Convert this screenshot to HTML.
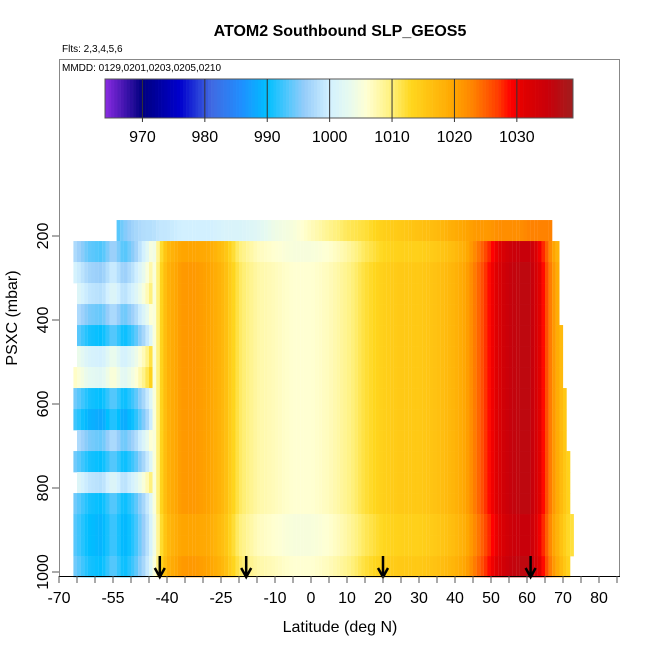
<!DOCTYPE html>
<html><head><meta charset="utf-8"><style>
body{margin:0;background:#fff;}
svg text{font-family:"Liberation Sans",sans-serif;}
</style></head><body>
<svg id="c" width="650" height="650" xmlns="http://www.w3.org/2000/svg">
<text x="340" y="36" font-size="16" font-weight="bold" text-anchor="middle">ATOM2 Southbound SLP_GEOS5</text>
<text x="62" y="52" font-size="10">Flts: 2,3,4,5,6</text>
<g id="heat"></g>
<g id="arrows"></g>
<rect x="59.5" y="59.5" width="560" height="517" fill="none" stroke="#888"/>
<text x="62" y="71" font-size="10">MMDD: 0129,0201,0203,0205,0210</text>
<g id="cbar"></g>
<g id="xaxis"></g>
<g id="yaxis"></g>
<text x="340" y="632" font-size="16" text-anchor="middle">Latitude (deg N)</text>
<text transform="translate(17,318) rotate(-90)" font-size="16" text-anchor="middle">PSXC (mbar)</text>
</svg>
<script>
// data
const profLat = [-67,-62,-58,-55,-52,-49,-46,-44,-42,-40,-36,-32,-28,-24,-20,-15,-10,-5,0,5,10,15,20,25,30,35,40,43,46,49,52,55,58,61,64,67,70,72];
const profVal = [996,991,990,994,990,993,998,1003,1012,1018,1021,1021,1020,1017,1011,1008,1007,1006,1006,1007,1009,1012,1014,1015,1015,1016,1018,1020,1024,1028,1032,1035,1036,1036,1030,1022,1016,1013];
const topVal  = [992,992,992,992,995,997,998,998,999,999,1000,1000,1000,1001,1001,1002,1004,1005,1007,1009,1011,1012,1014,1015,1016,1017,1019,1020,1021,1021,1022,1022,1022,1023,1023,1023,1023,1023];
const rowP = [187,237,287,337,387,437,487,537,587,637,687,737,787,837,887,937,987];
const rowLatMin = [-54,-66,-66,-65,-65,-65,-65,-66,-66,-66,-65,-66,-65,-66,-66,-66,-66];
const rowLatMax = [67,69,69,69,69,70,70,70,71,71,71,72,72,72,73,73,72];
const rowOffset = [0,-1,0,0,0,0,0,0,0,0,0,0,0,0,-1,-1,0];
const rowSouth = [0,4,6,8,4,0,10,12,0,-2,4,0,8,0,0,0,0];
const cbTicks = [970,980,990,1000,1010,1020,1030];
const xTicks = [-70,-55,-40,-25,-10,0,10,20,30,40,50,60,70,80];
const yTicks = [200,400,600,800,1000];
const arrowLat = [-42,-18,20,61];
const cbMin = 964, cbMax = 1039;

const NS='http://www.w3.org/2000/svg';
function mk(t,a,p){const e=document.createElementNS(NS,t);for(const k in a)e.setAttribute(k,a[k]);p.appendChild(e);return e;}
const xs = lat => 59 + (lat + 70) * 3.6;
const ys = p => 152 + p * 0.42;
const cbx = v => 105 + (v - cbMin) / (cbMax - cbMin) * 468;
const stops = [[964,[138,43,226]],[970,[0,0,128]],[976,[0,0,205]],[981,[65,105,225]],[986,[30,144,255]],[990,[0,191,255]],[996,[150,205,250]],[1000,[210,240,255]],[1003,[230,250,240]],[1006,[255,255,210]],[1010,[255,240,120]],[1013,[255,215,30]],[1020,[255,165,0]],[1023,[255,130,0]],[1027,[255,60,0]],[1029,[255,0,0]],[1031,[225,0,0]],[1035,[200,0,10]],[1039,[160,30,30]]];
function col(v){
  if(v<=stops[0][0])return 'rgb('+stops[0][1]+')';
  for(let i=1;i<stops.length;i++){if(v<=stops[i][0]){const a=stops[i-1],b=stops[i],t=(v-a[0])/(b[0]-a[0]);
    return 'rgb('+a[1].map((c,j)=>Math.round(c+(b[1][j]-c)*t)).join(',')+')';}}
  return 'rgb('+stops[stops.length-1][1]+')';
}
function interp(lat,vals){
  if(lat<=profLat[0])return vals[0];
  for(let i=1;i<profLat.length;i++){if(lat<=profLat[i]){const t=(lat-profLat[i-1])/(profLat[i]-profLat[i-1]);return vals[i-1]+(vals[i]-vals[i-1])*t;}}
  return vals[vals.length-1];
}
const heat=document.getElementById('heat');
rowP.forEach((p,r)=>{
  const y0=ys(p-25), y1=ys(p+25);
  for(let lat=rowLatMin[r]; lat<rowLatMax[r]; lat+=1){
    let v=interp(lat+0.5, r===0?topVal:profVal)+rowOffset[r];
    if(lat<-44) v+=rowSouth[r];
    const e=mk('rect',{x:xs(lat),y:y0,width:3.7,height:y1-y0+0.3,fill:col(v)},heat);
    
    
  }
});
// colorbar
const cb=document.getElementById('cbar');
for(let v=cbMin; v<cbMax; v+=0.5){
  const e=mk('rect',{x:cbx(v),y:79,width:468/150+0.3,height:39,fill:col(v+0.25)},cb);
  
  
}
mk('rect',{x:105,y:79,width:468,height:39,fill:'none',stroke:'#555'},cb);
cbTicks.forEach(v=>{
  mk('line',{x1:cbx(v),x2:cbx(v),y1:79,y2:122,stroke:'#333'},cb);
  const t=mk('text',{x:cbx(v),y:142,'font-size':16,'text-anchor':'middle'},cb);t.textContent=v;
  
  
});
// x axis
const xa=document.getElementById('xaxis');
mk('line',{x1:59,x2:620,y1:576.5,y2:576.5,stroke:'#000'},xa);
for(let l=-70;l<=85;l+=5){mk('line',{x1:xs(l),x2:xs(l),y1:576,y2:583,stroke:'#555'},xa);}
xTicks.forEach(l=>{const t=mk('text',{x:xs(l),y:603,'font-size':16,'text-anchor':'middle'},xa);t.textContent=l;
  
  });
// y axis
const ya=document.getElementById('yaxis');
yTicks.forEach(p=>{mk('line',{x1:52,x2:59,y1:ys(p),y2:ys(p),stroke:'#555'},ya);
  const t=mk('text',{transform:'translate(48,'+ys(p)+') rotate(-90)','font-size':16,'text-anchor':'middle'},ya);t.textContent=p;
  
  });
// arrows
const ar=document.getElementById('arrows');
arrowLat.forEach(l=>{const x=xs(l);
  mk('line',{x1:x,x2:x,y1:556,y2:576,stroke:'#000','stroke-width':2.5},ar);
  const e=mk('path',{d:'M'+(x-5)+' 568 L'+x+' 577 L'+(x+5)+' 568',fill:'none',stroke:'#000','stroke-width':2.5},ar);
  
  });
</script>
</body></html>
